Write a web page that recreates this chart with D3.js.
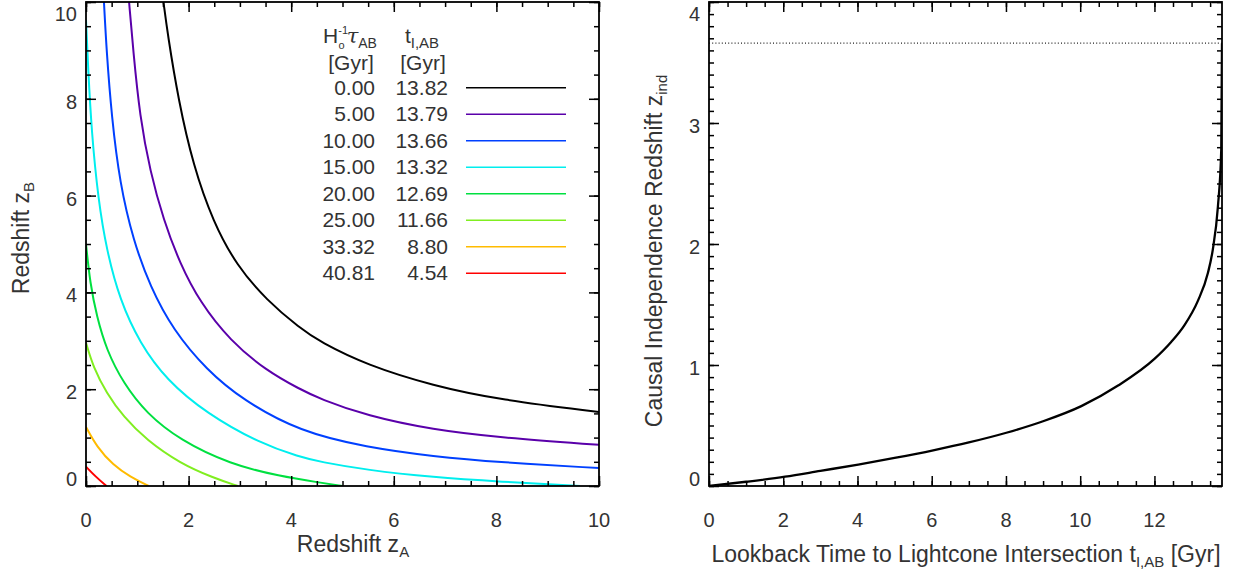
<!DOCTYPE html>
<html>
<head>
<meta charset="utf-8">
<script src="https://cdn.jsdelivr.net/npm/d3@7"></script>
<style>
  body { margin: 0; background: #fff; }
  svg text { font-family: "Liberation Sans", Arial, sans-serif; fill: #333; }
  .ticks line { stroke: #000; stroke-width: 1.5; }
  .ticks path.domain { display: none; }
</style>
</head>
<body>
<svg id="chart" width="1239" height="573"></svg>
<script>
// legend values
const tauLabels = ["0.00", "5.00", "10.00", "15.00", "20.00", "25.00", "33.32", "40.81"];
const tLabels = ["13.82", "13.79", "13.66", "13.32", "12.69", "11.66", "8.80", "4.54"];

// left panel curves, z_A and z_B per curve
const zA0 = [1.51, 1.59, 1.80, 2.09, 2.48, 2.94, 3.52, 4.17, 4.56, 5.47, 6.77, 8.07, 10.0];
const zB0 = [10.0, 9.35, 7.98, 6.62, 5.45, 4.55, 3.84, 3.26, 2.98, 2.50, 2.07, 1.78, 1.53];
const zA1 = [0.84, 0.92, 1.05, 1.25, 1.51, 1.83, 2.22, 2.81, 3.52, 4.17, 4.56, 5.47, 6.77, 8.07, 10.0];
const zB1 = [10.0, 9.00, 7.63, 6.50, 5.50, 4.60, 3.80, 3.00, 2.38, 2.00, 1.80, 1.45, 1.16, 1.00, 0.85];
const zA2 = [0.35, 0.40, 0.50, 0.66, 0.92, 1.25, 1.70, 2.35, 3.05, 4.17, 5.47, 6.77, 8.07, 10.0];
const zB2 = [10.0, 9.00, 7.63, 6.25, 5.08, 4.12, 3.22, 2.40, 1.78, 1.12, 0.80, 0.61, 0.49, 0.37];
const zA3 = [0.0, 0.04, 0.11, 0.24, 0.40, 0.66, 1.05, 1.57, 2.35, 3.39, 4.17, 4.56, 5.47, 6.77, 8.07, 9.63];
const zB3 = [9.63, 8.66, 7.29, 5.91, 4.88, 3.84, 2.95, 2.19, 1.50, 0.88, 0.60, 0.50, 0.33, 0.18, 0.09, 0.0];
const zA4 = [0.0, 0.08, 0.21, 0.40, 0.73, 1.18, 1.83, 2.81, 3.78, 4.56, 5.0];
const zB4 = [5.0, 4.19, 3.50, 2.81, 2.12, 1.50, 0.95, 0.45, 0.20, 0.07, 0.0];
const zA5 = [0.0, 0.14, 0.40, 0.73, 1.18, 1.83, 2.48, 2.96];
const zB5 = [2.96, 2.46, 1.92, 1.43, 0.95, 0.47, 0.17, 0.0];
const zA6 = [0.0, 0.21, 0.53, 0.86, 1.22];
const zB6 = [1.22, 0.81, 0.43, 0.19, 0.0];
const zA7 = [0.0, 0.19, 0.40];
const zB7 = [0.40, 0.19, 0.0];

// right panel curve
const tLook = [0, 1, 2.05, 3, 4.02, 5, 6.04, 7, 8.01, 9, 10.03, 11.02, 12.0, 12.45, 12.81, 13.17, 13.44, 13.57, 13.71, 13.80, 13.82];
const zInd = [0, 0.035, 0.077, 0.125, 0.177, 0.232, 0.295, 0.36, 0.44, 0.535, 0.66, 0.83, 1.05, 1.19, 1.33, 1.53, 1.76, 1.95, 2.31, 2.78, 3.66];
const zIndMax = 3.66;

const colors = ["#000000", "#5a00aa", "#0040ff", "#00eeee", "#00e040", "#80ee20", "#ffbb00", "#ff0000"];
const curves = [[zA0, zB0], [zA1, zB1], [zA2, zB2], [zA3, zB3], [zA4, zB4], [zA5, zB5], [zA6, zB6], [zA7, zB7]];

const svg = d3.select("#chart");

// ---------- panel helper ----------
function frame(x, y, xMajor, xMinor, yMajor, yMinor) {
  const [x0, x1] = x.range();
  const [y0, y1] = y.range();
  const add = (axis, tr) => svg.append("g").attr("class", "ticks").attr("transform", tr).call(axis);
  add(d3.axisBottom(x).tickValues(xMajor).tickSize(-10).tickFormat(""), `translate(0,${y0})`);
  add(d3.axisBottom(x).tickValues(xMinor).tickSize(-5).tickFormat(""), `translate(0,${y0})`);
  add(d3.axisTop(x).tickValues(xMajor).tickSize(-10).tickFormat(""), `translate(0,${y1})`);
  add(d3.axisTop(x).tickValues(xMinor).tickSize(-5).tickFormat(""), `translate(0,${y1})`);
  add(d3.axisLeft(y).tickValues(yMajor).tickSize(-10).tickFormat(""), `translate(${x0},0)`);
  add(d3.axisLeft(y).tickValues(yMinor).tickSize(-5).tickFormat(""), `translate(${x0},0)`);
  add(d3.axisRight(y).tickValues(yMajor).tickSize(-10).tickFormat(""), `translate(${x1},0)`);
  add(d3.axisRight(y).tickValues(yMinor).tickSize(-5).tickFormat(""), `translate(${x1},0)`);

  svg.append("rect").attr("x", x0).attr("y", y1).attr("width", x1 - x0).attr("height", y0 - y1)
    .attr("fill", "none").attr("stroke", "#000").attr("stroke-width", 1.8);

  svg.selectAll(null).data(xMajor).enter().append("text")
    .attr("x", d => x(d)).attr("y", 527).attr("text-anchor", "middle")
    .attr("font-size", 20).text(d => d);

  const n = yMajor.length;
  svg.selectAll(null).data(yMajor).enter().append("text")
    .attr("x", x0 - 9)
    .attr("y", (d, i) => i === 0 ? y(d) : (i === n - 1 ? y(d) + 19 : y(d) + 10))
    .attr("text-anchor", "end").attr("font-size", 20).text(d => d);
}

// ---------- left panel ----------
const xL = d3.scaleLinear().domain([0, 10]).range([86, 599]);
const yL = d3.scaleLinear().domain([0, 10]).range([486, 2]);

svg.append("clipPath").attr("id", "clipL").append("rect")
  .attr("x", 86).attr("y", 2).attr("width", 513).attr("height", 484);

const lineL = d3.line().x(d => xL(d[0])).y(d => yL(d[1])).curve(d3.curveBasis);
svg.append("g").attr("clip-path", "url(#clipL)")
  .selectAll("path").data(curves).enter().append("path")
  .attr("d", c => lineL(c[0].map((a, i) => [a, c[1][i]])))
  .attr("fill", "none").attr("stroke", (c, i) => colors[i]).attr("stroke-width", 2);

frame(xL, yL, d3.range(0, 10.01, 2), d3.range(0, 10.01, 0.5), d3.range(0, 10.01, 2), d3.range(0, 10.01, 0.5));

// left legend
const legX1 = 375, legX2 = 448, legRow0 = 87.7, legStep = 26.5;
const head1 = svg.append("text").attr("x", 350).attr("y", 43).attr("text-anchor", "middle").attr("font-size", 21);
head1.append("tspan").text("H");
head1.append("tspan").attr("font-size", 11).attr("dy", -9).text("-1");
head1.append("tspan").attr("font-size", 11).attr("dx", -9.5).attr("dy", 15).text("o");
head1.append("tspan").attr("font-style", "italic").attr("font-family", "DejaVu Serif").attr("dx", 2).attr("dy", -6).text("τ");
head1.append("tspan").attr("font-size", 14).attr("dy", 5).text("AB");
const head2 = svg.append("text").attr("x", 422).attr("y", 43).attr("text-anchor", "middle").attr("font-size", 21);
head2.append("tspan").text("t");
head2.append("tspan").attr("font-size", 15).attr("dy", 5).text("I,AB");
svg.append("text").attr("x", 351).attr("y", 70).attr("text-anchor", "middle").attr("font-size", 21).text("[Gyr]");
svg.append("text").attr("x", 423).attr("y", 70).attr("text-anchor", "middle").attr("font-size", 21).text("[Gyr]");

const rows = svg.selectAll(null).data(tauLabels).enter().append("g")
  .attr("transform", (d, i) => `translate(0,${legRow0 + i * legStep})`);
rows.append("text").attr("x", legX1).attr("y", 7).attr("text-anchor", "end").attr("font-size", 21).text(d => d);
rows.append("text").attr("x", legX2).attr("y", 7).attr("text-anchor", "end").attr("font-size", 21).text((d, i) => tLabels[i]);
rows.append("line").attr("x1", 466).attr("x2", 566).attr("y1", 0).attr("y2", 0)
  .attr("stroke", (d, i) => colors[i]).attr("stroke-width", 1.5);

// left axis titles
const tA = svg.append("text").attr("x", 353).attr("y", 552).attr("text-anchor", "middle").attr("font-size", 23);
tA.append("tspan").text("Redshift z");
tA.append("tspan").attr("font-size", 15).attr("dy", 5).text("A");
const tB = svg.append("text").attr("transform", "translate(29,238) rotate(-90)").attr("text-anchor", "middle").attr("font-size", 23);
tB.append("tspan").text("Redshift z");
tB.append("tspan").attr("font-size", 15).attr("dy", 5).text("B");

// ---------- right panel ----------
const xR = d3.scaleLinear().domain([0, 13.82]).range([709, 1222]);
const yR = d3.scaleLinear().domain([0, 4]).range([486, 2]);

svg.append("line").attr("x1", xR(0)).attr("x2", xR(13.82)).attr("y1", yR(zIndMax)).attr("y2", yR(zIndMax))
  .attr("stroke", "#222").attr("stroke-width", 1.2).attr("stroke-dasharray", "1,2.2");

svg.append("clipPath").attr("id", "clipR").append("rect")
  .attr("x", 709).attr("y", 2).attr("width", 513).attr("height", 484);
const lineR = d3.line().x(d => xR(d[0])).y(d => yR(d[1])).curve(d3.curveMonotoneX);
svg.append("path").attr("clip-path", "url(#clipR)")
  .attr("d", lineR(tLook.map((t, i) => [t, zInd[i]])))
  .attr("fill", "none").attr("stroke", "#000").attr("stroke-width", 2.3);

frame(xR, yR, d3.range(0, 13.9, 2), d3.range(0, 13.9, 0.5), d3.range(0, 4.01, 1), d3.range(0, 4.01, 0.1));

const tT = svg.append("text").attr("x", 966).attr("y", 562).attr("text-anchor", "middle").attr("font-size", 23);
tT.append("tspan").text("Lookback Time to Lightcone Intersection t");
tT.append("tspan").attr("font-size", 15).attr("dy", 5).text("I,AB");
tT.append("tspan").attr("dy", -5).text(" [Gyr]");
const tZ = svg.append("text").attr("transform", "translate(662,251) rotate(-90)").attr("text-anchor", "middle").attr("font-size", 23);
tZ.append("tspan").text("Causal Independence Redshift z");
tZ.append("tspan").attr("font-size", 15).attr("dy", 5).text("ind");
</script>
</body>
</html>
